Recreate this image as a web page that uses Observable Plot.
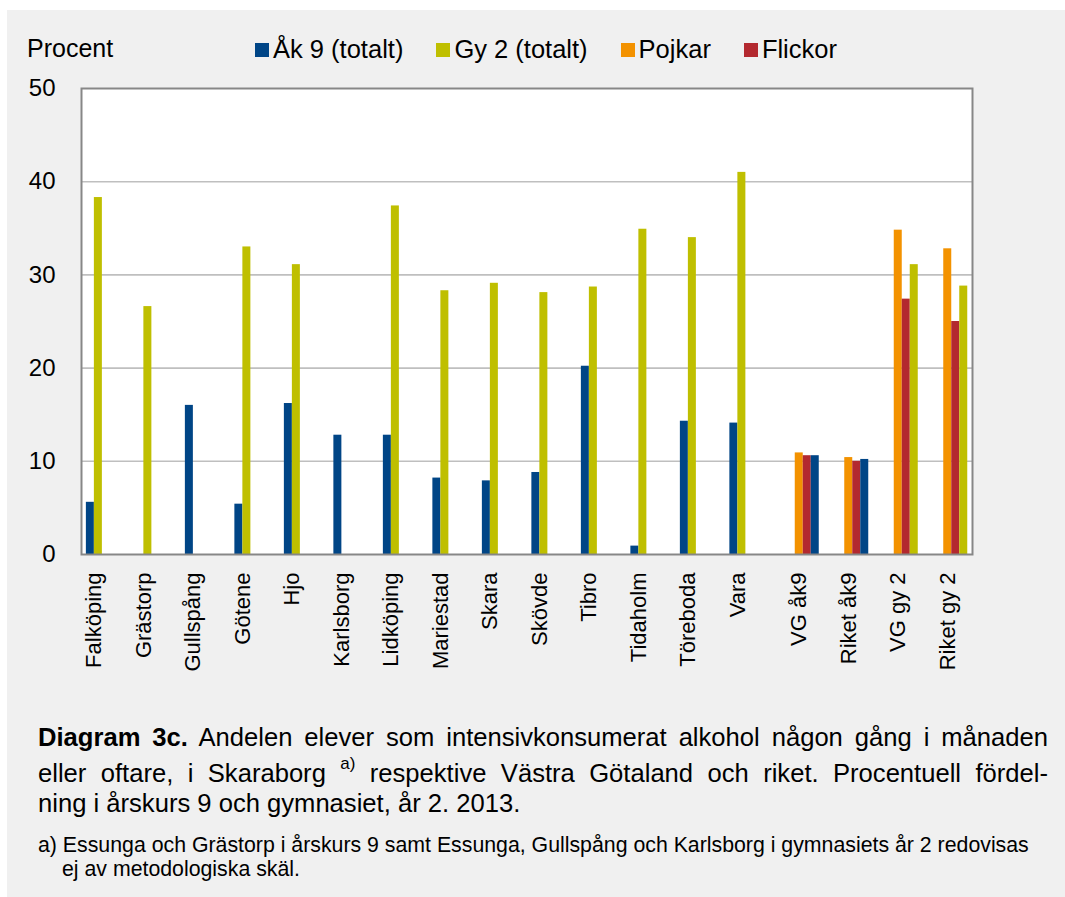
<!DOCTYPE html>
<html>
<head>
<meta charset="utf-8">
<script src="https://cdn.jsdelivr.net/npm/d3@7"></script>
<script src="https://cdn.jsdelivr.net/npm/@observablehq/plot@0.6"></script>
<style>
  html, body { margin: 0; padding: 0; background: #ffffff; }
  body { width: 1065px; height: 897px; position: relative; overflow: hidden;
         font-family: "Liberation Sans", Arial, sans-serif; color: #000; }
  #panel { position: absolute; left: 7px; top: 10px; width: 1058px; height: 887px; background: #f0f0f0; }
  #ylabel { position: absolute; left: 20px; top: 23px; font-size: 25px; line-height: 30px; }
  #legend { position: absolute; left: 248px; top: 24px; display: flex; font-size: 25.5px; line-height: 30px; }
  .item { display: flex; align-items: center; margin-right: 33px; }
  .sw { width: 14px; height: 14px; margin-right: 4px; margin-top: 1px; }
  #chart { position: absolute; left: 0; top: 50px; }
  .cap { position: absolute; left: 31px; width: 1010px; font-size: 25.6px; line-height: 30px; white-space: nowrap; }
  .just { text-align: justify; text-align-last: justify; white-space: normal; }
  .foot { position: absolute; left: 31px; font-size: 21.3px; line-height: 24px; white-space: nowrap; }
</style>
</head>
<body>
<div id="panel">
  <div id="ylabel">Procent</div>
  <div id="legend"></div>
  <div id="chart"></div>
  <div class="cap just" style="top:712px"><b>Diagram 3c.</b> Andelen elever som intensivkonsumerat alkohol någon gång i månaden</div>
  <div class="cap just" style="top:748px">eller oftare, i Skaraborg <span style="font-size:17px; position:relative; top:-13px">a)</span> respektive Västra Götaland och riket. Procentuell fördel-</div>
  <div class="cap" style="top:778px">ning i årskurs 9 och gymnasiet, år 2. 2013.</div>
  <div class="foot" style="top:823px">a)&nbsp;Essunga och Grästorp i årskurs 9 samt Essunga, Gullspång och Karlsborg i gymnasiets år 2 redovisas</div>
  <div class="foot" style="top:847px; left:55px">ej av metodologiska skäl.</div>
</div>
<script>
// ---- data ----
const categories = ["Falköping", "Grästorp", "Gullspång", "Götene", "Hjo", "Karlsborg", "Lidköping",
  "Mariestad", "Skara", "Skövde", "Tibro", "Tidaholm", "Töreboda", "Vara",
  "VG åk9", "Riket åk9", "VG gy 2", "Riket gy 2"];
const ak9     = [5.6, null, 16.0, 5.4, 16.2, 12.8, 12.8, 8.2, 7.9, 8.8, 20.2, 0.9, 14.3, 14.1, 10.6, 10.2, null, null];
const gy2     = [38.3, 26.6, null, 33.0, 31.1, null, 37.4, 28.3, 29.1, 28.1, 28.7, 34.9, 34.0, 41.0, null, null, 31.1, 28.8];
const pojkar  = [null, null, null, null, null, null, null, null, null, null, null, null, null, null, 10.9, 10.4, 34.8, 32.8];
const flickor = [null, null, null, null, null, null, null, null, null, null, null, null, null, null, 10.6, 10.0, 27.4, 25.0];
const seriesNames = ["Åk 9 (totalt)", "Gy 2 (totalt)", "Pojkar", "Flickor"];
const seriesColors = ["#004586", "#bfbf00", "#f39200", "#b3292f"];
const yTicks = [0, 10, 20, 30, 40, 50];

// ---- legend ----
const legend = document.getElementById("legend");
seriesNames.forEach((n, k) => {
  const it = document.createElement("div"); it.className = "item";
  const sw = document.createElement("div"); sw.className = "sw"; sw.style.background = seriesColors[k];
  const tx = document.createElement("span"); tx.textContent = n;
  it.appendChild(sw); it.appendChild(tx); legend.appendChild(it);
});

// ---- layout of clustered bars ----
const bw = 8 / 49.5;          // bar width in category units
const muniShift = -0.24;      // municipality groups sit left of the band centre
const rows = [];
const centers = [];
categories.forEach((c, i) => {
  const comparison = pojkar[i] != null;
  const center = i + 0.5 + (comparison ? 0 : muniShift);
  centers.push(center);
  const slots = comparison
    ? [[pojkar[i], 2, -0.5], [flickor[i], 3, 0.5], [ak9[i], 0, 1.5], [gy2[i], 1, 1.5]]
    : [[ak9[i], 0, -1], [gy2[i], 1, 0]];
  for (const [v, s, slot] of slots) {
    if (v == null) continue;
    rows.push({cat: c, series: seriesNames[s], value: v, x1: center + slot * bw, x2: center + (slot + 1) * bw});
  }
});
const labelAt = new Map(centers.map((p, i) => [p, categories[i]]));

const chart = Plot.plot({
  width: 1058,
  height: 640,
  marginLeft: 74,
  marginRight: 93,
  marginTop: 28,
  marginBottom: 146,
  style: {fontFamily: "'Liberation Sans', Arial, sans-serif", fontSize: "24px", background: "transparent", color: "#000", overflow: "visible"},
  x: {domain: [0, categories.length], axis: null},
  y: {domain: [0, 50], axis: null},
  color: {domain: seriesNames, range: seriesColors},
  marks: [
    Plot.frame({fill: "#ffffff", stroke: null}),
    Plot.ruleY(yTicks.filter(d => d > 0 && d < 50), {stroke: "#bfbfbf", strokeWidth: 1.6}),
    Plot.rectY(rows, {x1: "x1", x2: "x2", y1: 0, y2: "value", fill: "series", inset: 0}),
    Plot.frame({stroke: "#878787", strokeWidth: 2}),
    Plot.axisY({ticks: yTicks, tickSize: 0, tickPadding: 26, fontSize: 24, label: null}),
    Plot.axisX({ticks: centers, tickFormat: d => labelAt.get(d), tickRotate: -90, tickSize: 0, tickPadding: 18, fontSize: 22, label: null})
  ]
});
document.getElementById("chart").appendChild(chart);
</script>
</body>
</html>
